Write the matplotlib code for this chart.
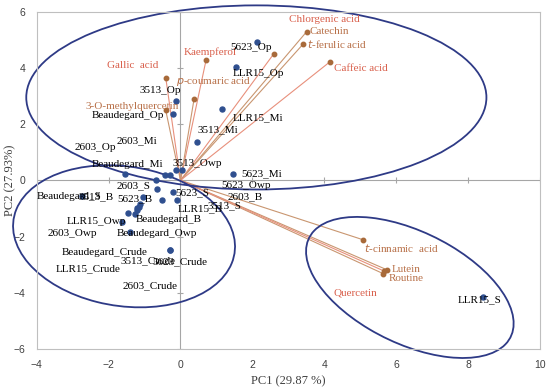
import numpy as np
import matplotlib
matplotlib.use("Agg")
import matplotlib.pyplot as plt
from matplotlib.patches import Ellipse

# sample scores (PC1, PC2)
samples = ["5623_Op", "LLR15_Op", "LLR15_Mi", "3513_Mi", "3513_Op", "Beaudegard_Op",
           "2603_Mi", "3513_Owp", "2603_Op", "Beaudegard_Mi", "5623_Mi", "2603_S",
           "5623_Owp", "5623_S", "2603_B", "LLR15_B", "3513_S", "5623_B",
           "Beaudegard_S", "3513_B", "LLR15_Owp", "Beaudegard_B", "2603_Owp",
           "Beaudegard_Owp", "Beaudegard_Crude", "3513_Crude", "5623_Crude",
           "LLR15_Crude", "2603_Crude", "LLR15_S"]
score_x = [2.14, 1.54, 1.16, 0.45, -0.13, -0.20, -0.13, 0.03, -0.43, -1.54, 1.47, -0.68,
           -0.29, -0.20, -0.65, -0.09, -0.52, -1.04, -1.13, -2.75, -1.64, -1.22,
           -1.27, -1.40, -1.45, -0.29, -0.29, -1.15, -1.20, 8.41]
score_y = [4.92, 4.03, 2.55, 1.36, 2.82, 2.37, 0.36, 0.36, 0.20, 0.24, 0.21, 0.00,
           0.18, -0.42, -0.30, -0.71, -0.69, -0.60, -0.83, -0.57, -1.48, -1.07,
           -1.19, -1.84, -1.16, -2.49, -2.49, -0.95, -1.00, -4.16]
# where the labels sit
label_x = [1.38, 1.46, 1.46, 0.46, -1.15, -2.46, -1.77, -0.21, -2.96, -2.46, 1.68, -1.77,
           1.13, -0.15, 1.32, -0.07, 0.76, -1.77, -3.99, -2.85, -3.16, -1.26, -3.69,
           -1.77, -3.30, -1.68, -0.79, -3.46, -1.62, 7.72]
label_y = [4.71, 3.81, 2.21, 1.81, 3.18, 2.31, 1.42, 0.60, 1.17, 0.57, 0.25, -0.18,
           -0.20, -0.43, -0.57, -1.00, -0.89, -0.64, -0.57, -0.57, -1.46, -1.39, -1.89,
           -1.89, -2.56, -2.85, -2.88, -3.13, -3.74, -4.23]

# compound loadings
compounds = ["Chlorgenic acid", "Catechin", "$t$-ferulic acid", "Caffeic acid", "Kaempferol",
             "Gallic  acid", "$p$-coumaric acid", "3-O-methylquercetin", "$t$-cinnamic  acid",
             "Lutein", "Routine", "Quercetin"]
load_x = [2.60, 3.51, 3.42, 4.16, 0.71, -0.41, 0.38, -0.41, 5.07, 5.74, 5.64, 5.67]
load_y = [4.51, 5.29, 4.86, 4.22, 4.27, 3.65, 2.91, 2.49, -2.11, -3.18, -3.32, -3.23]
load_lx = [3.03, 3.60, 3.53, 4.28, 0.08, -2.04, -0.13, -2.63, 5.10, 5.87, 5.78, 4.27]
load_ly = [5.72, 5.28, 4.86, 3.97, 4.57, 4.09, 3.50, 2.61, -2.40, -3.18, -3.50, -4.01]
red_group = ["Chlorgenic acid", "Caffeic acid", "Kaempferol", "Gallic  acid", "Quercetin"]

xticks = [-4, -2, 0, 2, 4, 6, 8, 10]
yticks = [-6, -4, -2, 0, 2, 4, 6]

serif = "Liberation Serif"
blue = "#2F4F8F"

fig = plt.figure(figsize=(5.5, 3.9), dpi=100)
ax = fig.add_axes([0.0667, 0.1051, 0.9151, 0.8649])
ax.set_xlim(-4, 10)
ax.set_ylim(-6, 6)
for s in ax.spines.values():
    s.set_color("#BFBFBF")
    s.set_linewidth(0.8)
ax.set_xticks(xticks)
ax.set_yticks(yticks)
ax.tick_params(length=0, labelsize=7.5, colors="#404040", pad=8)
for t in ax.get_xticklabels() + ax.get_yticklabels():
    t.set_fontfamily("Liberation Sans")

# axes through the origin
ax.axhline(0, color="#A6A6A6", lw=0.8, zorder=1)
ax.axvline(0, color="#A6A6A6", lw=0.8, zorder=1)
ax.plot(xticks, [0] * len(xticks), ls="none", marker="|", ms=5, mew=0.8, color="#A6A6A6", zorder=1)
ax.plot([0] * len(yticks), yticks, ls="none", marker="_", ms=5, mew=0.8, color="#A6A6A6", zorder=1)

# loading vectors
for name, x, y, lx, ly in zip(compounds, load_x, load_y, load_lx, load_ly):
    red = name in red_group
    ax.plot([0, x], [0, y], color="#E8907C" if red else "#C99670", lw=0.8, zorder=2)
    ax.plot(x, y, "o", ms=3.2, color="#A86A3A", zorder=3)
    ax.text(lx, ly, name, fontsize=8, family=serif, color="#D9604C" if red else "#B87048",
            va="center", ha="left", zorder=4)

# scores
ax.plot(score_x, score_y, "o", ms=3.6, color=blue, ls="none", zorder=3)
for name, lx, ly in zip(samples, label_x, label_y):
    ax.text(lx, ly, name, fontsize=8, family=serif, color="black", va="center", ha="left", zorder=4)

# group ellipses
ell_col = "#2E3A86"
ax.add_patch(Ellipse((2.11, 2.95), 12.8, 6.55, angle=0, fill=False, ec=ell_col, lw=1.3, clip_on=False, zorder=2))
ax.add_patch(Ellipse((-1.57, -1.99), 6.29, 4.91, angle=-17.8, fill=False, ec=ell_col, lw=1.3, clip_on=False, zorder=2))
ax.add_patch(Ellipse((6.38, -3.81), 6.68, 3.73, angle=-37.3, fill=False, ec=ell_col, lw=1.3, clip_on=False, zorder=2))

ax.set_xlabel("PC1 (29.87 %)", fontsize=9, family=serif, color="#404040", labelpad=4)
ax.set_ylabel("PC2 (27.93%)", fontsize=9, family=serif, color="#404040", va="center")
ax.yaxis.set_label_coords(-0.052, 0.5)

fig.savefig("out.png", dpi=100)
